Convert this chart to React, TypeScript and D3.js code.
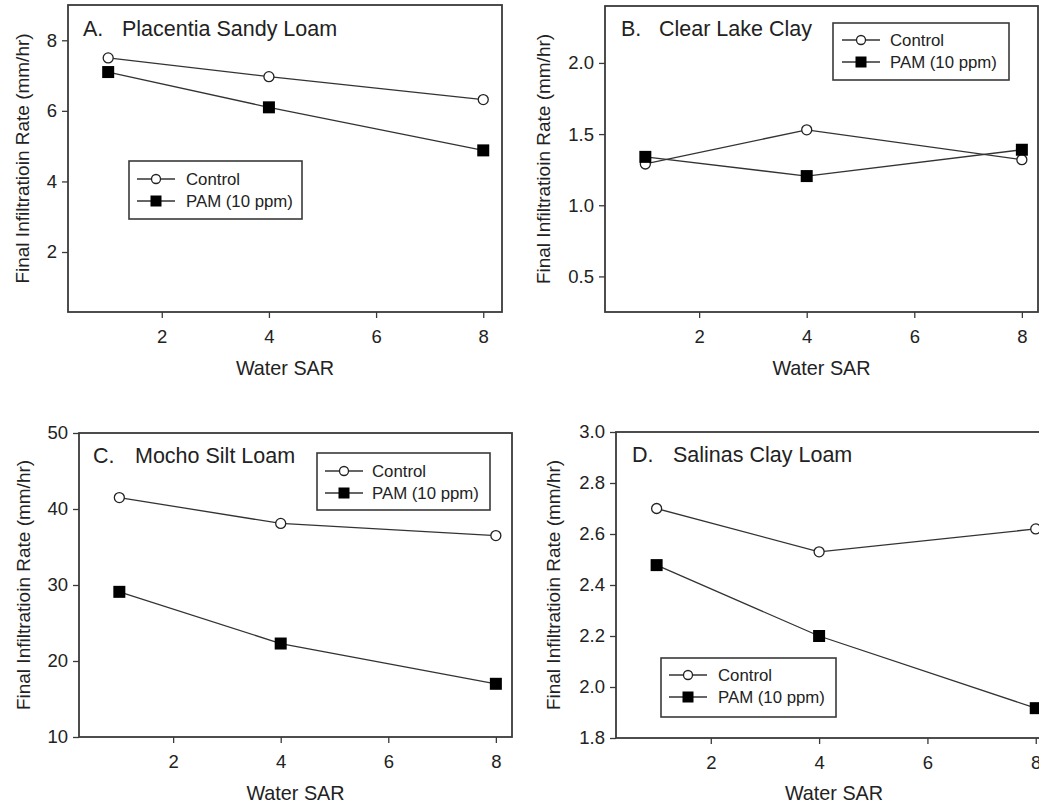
import React, { useEffect, useRef } from "react";
import * as d3 from "d3";

const width = 1039;
const height = 807;
const font = "'Liberation Sans', Arial, Helvetica, sans-serif";
const ink = "#222";
const frameColor = "#3a3a3a";
const lineColor = "#333";

// x values shared by every panel
const waterSAR = [1, 4, 8];
const sarTicks = [2, 4, 6, 8];
const seriesNames = ["Control", "PAM (10 ppm)"];
const yLabel = "Final Infiltratioin Rate (mm/hr)";
const xLabel = "Water SAR";

// A. Placentia Sandy Loam
const placentiaControl = [7.5, 6.97, 6.32];
const placentiaPAM = [7.1, 6.1, 4.88];
const placentiaTicks = [2, 4, 6, 8];

// B. Clear Lake Clay
const clearLakeControl = [1.29, 1.53, 1.32];
const clearLakePAM = [1.34, 1.205, 1.39];
const clearLakeTicks = [0.5, 1.0, 1.5, 2.0];

// C. Mocho Silt Loam
const mochoControl = [41.5, 38.1, 36.5];
const mochoPAM = [29.1, 22.3, 17.0];
const mochoTicks = [10, 20, 30, 40, 50];

// D. Salinas Clay Loam
const salinasControl = [2.7, 2.53, 2.62];
const salinasPAM = [2.478, 2.2, 1.917];
const salinasTicks = [1.8, 2.0, 2.2, 2.4, 2.6, 2.8, 3.0];

const panels = [
  {
    key: "A", letter: "A.", name: "Placentia Sandy Loam",
    control: placentiaControl, pam: placentiaPAM, yTicks: placentiaTicks, yFmt: "d",
    xDomain: [0.25, 8.35], yDomain: [0.3, 9.0],
    left: 68, right: 502, top: 5, bottom: 312,
    title: { x: 83, nameX: 122, y: 36 },
    yLabelX: 29, xLabelY: 375,
    legend: { x0: 129, x1: 302, y0: 161, y1: 219, lx0: 137, lx1: 175, tx: 186, rows: [179, 201] },
  },
  {
    key: "B", letter: "B.", name: "Clear Lake Clay",
    control: clearLakeControl, pam: clearLakePAM, yTicks: clearLakeTicks, yFmt: ".1f",
    xDomain: [0.25, 8.3], yDomain: [0.25, 2.4],
    left: 605, right: 1038, top: 6, bottom: 312,
    title: { x: 621, nameX: 659, y: 36 },
    yLabelX: 550, xLabelY: 375,
    legend: { x0: 833, x1: 1009, y0: 23, y1: 80, lx0: 842, lx1: 880, tx: 890, rows: [40, 62] },
  },
  {
    key: "C", letter: "C.", name: "Mocho Silt Loam",
    control: mochoControl, pam: mochoPAM, yTicks: mochoTicks, yFmt: "d",
    xDomain: [0.25, 8.3], yDomain: [10, 50],
    left: 79, right: 512, top: 433, bottom: 737,
    title: { x: 93, nameX: 135, y: 463 },
    yLabelX: 30, xLabelY: 800,
    legend: { x0: 317, x1: 490, y0: 453, y1: 510, lx0: 325, lx1: 363, tx: 372, rows: [471, 493] },
  },
  {
    key: "D", letter: "D.", name: "Salinas Clay Loam",
    control: salinasControl, pam: salinasPAM, yTicks: salinasTicks, yFmt: ".1f",
    xDomain: [0.25, 8.3], yDomain: [1.8, 3.0],
    left: 616, right: 1052, top: 432, bottom: 738,
    title: { x: 632, nameX: 673, y: 462 },
    yLabelX: 560, xLabelY: 800,
    legend: { x0: 661, x1: 836, y0: 658, y1: 717, lx0: 669, lx1: 707, tx: 718, rows: [675, 697] },
  },
];

const Marker = ({ type, cx, cy, size }) =>
  type === "circle" ? (
    <circle cx={cx} cy={cy} r={size / 2} fill="#fff" stroke="#222" strokeWidth={1.3} />
  ) : (
    <rect x={cx - size / 2} y={cy - size / 2} width={size} height={size} fill="#000" />
  );

function Panel({ p }) {
  const xAxisRef = useRef(null);
  const yAxisRef = useRef(null);

  const xScale = d3.scaleLinear().domain(p.xDomain).range([p.left, p.right]);
  const yScale = d3.scaleLinear().domain(p.yDomain).range([p.bottom, p.top]);
  const lineGenerator = d3
    .line()
    .x((d, i) => xScale(waterSAR[i]))
    .y(d => yScale(d));

  useEffect(() => {
    const xAxis = d3.axisBottom(xScale).tickValues(sarTicks).tickSize(6).tickPadding(12).tickFormat(d3.format("d"));
    const yAxis = d3.axisLeft(yScale).tickValues(p.yTicks).tickSize(6).tickPadding(5).tickFormat(d3.format(p.yFmt));
    [
      [xAxisRef.current, xAxis],
      [yAxisRef.current, yAxis],
    ].forEach(([node, axis]) => {
      const g = d3.select(node).call(axis);
      g.select(".domain").remove();
      g.selectAll("line").attr("stroke", frameColor).attr("stroke-width", 1.3);
      g.selectAll("text").attr("font-size", 18.5).attr("font-family", font).attr("fill", ink);
    });
  });

  const lg = p.legend;
  const series = [
    { name: seriesNames[0], values: p.control, marker: "circle" },
    { name: seriesNames[1], values: p.pam, marker: "square" },
  ];

  return (
    <g>
      <g ref={xAxisRef} transform={`translate(0, ${p.bottom})`} />
      <g ref={yAxisRef} transform={`translate(${p.left}, 0)`} />
      <rect
        x={p.left}
        y={p.top}
        width={p.right - p.left}
        height={p.bottom - p.top}
        fill="none"
        stroke={frameColor}
        strokeWidth={1.8}
      />
      {series.map(s => (
        <g key={s.name}>
          <path d={lineGenerator(s.values)} fill="none" stroke={lineColor} strokeWidth={1.3} />
          {s.values.map((v, i) => (
            <Marker
              key={i}
              type={s.marker}
              cx={xScale(waterSAR[i])}
              cy={yScale(v)}
              size={s.marker === "circle" ? 10 : 12}
            />
          ))}
        </g>
      ))}
      <text x={p.title.x} y={p.title.y} fontSize={21.5} fontFamily={font} fill={ink}>
        {p.letter}
      </text>
      <text x={p.title.nameX} y={p.title.y} fontSize={21.5} fontFamily={font} fill={ink}>
        {p.name}
      </text>
      <text
        transform={`translate(${p.yLabelX}, ${(p.top + p.bottom) / 2}) rotate(-90)`}
        textAnchor="middle"
        fontSize={19}
        fontFamily={font}
        fill={ink}
      >
        {yLabel}
      </text>
      <text
        x={(p.left + p.right) / 2}
        y={p.xLabelY}
        textAnchor="middle"
        fontSize={19.8}
        fontFamily={font}
        fill={ink}
      >
        {xLabel}
      </text>
      <g>
        <rect x={lg.x0} y={lg.y0} width={lg.x1 - lg.x0} height={lg.y1 - lg.y0} fill="#fff" stroke={frameColor} strokeWidth={1.6} />
        {series.map((s, i) => (
          <g key={s.name}>
            <line x1={lg.lx0} x2={lg.lx1} y1={lg.rows[i]} y2={lg.rows[i]} stroke={lineColor} strokeWidth={1.3} />
            <Marker type={s.marker} cx={(lg.lx0 + lg.lx1) / 2} cy={lg.rows[i]} size={s.marker === "circle" ? 9 : 11} />
            <text x={lg.tx} y={lg.rows[i]} dy="0.35em" fontSize={16.8} fontFamily={font} fill={ink}>
              {s.name}
            </text>
          </g>
        ))}
      </g>
    </g>
  );
}

export default function App() {
  return (
    <svg
      width={width}
      height={height}
      style={{ position: "absolute", left: 0, top: 0, background: "#fff" }}
    >
      {panels.map(p => (
        <Panel key={p.key} p={p} />
      ))}
    </svg>
  );
}
